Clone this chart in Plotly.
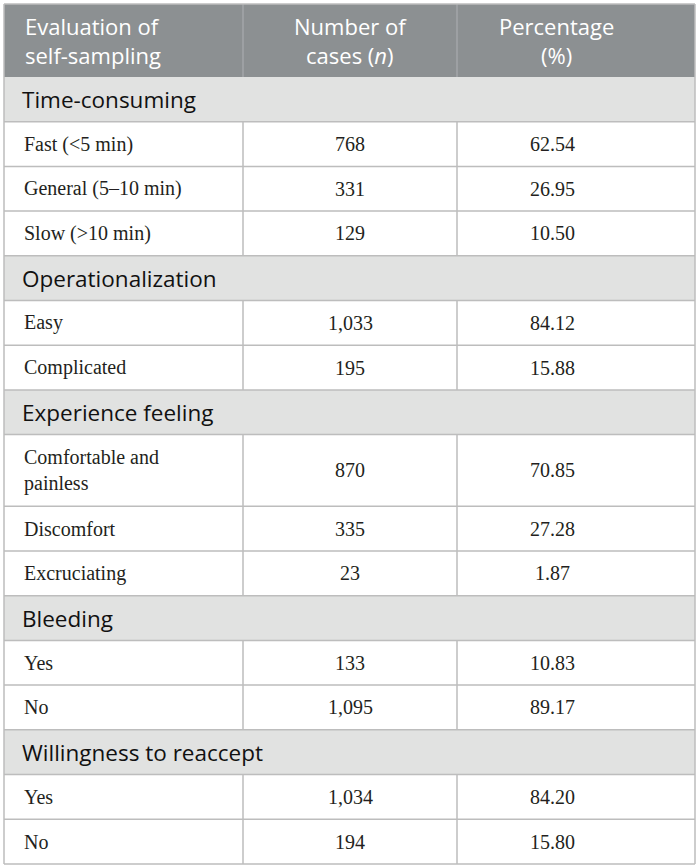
import plotly.graph_objects as go

# table content
header = ["Evaluation of<br>self-sampling", "Number of<br>cases (<i>n</i>)", "Percentage<br>(%)"]

sections = ["Time-consuming", "Operationalization", "Experience feeling",
            "Bleeding", "Willingness to reaccept"]

time_items = ["Fast (&lt;5 min)", "General (5–10 min)", "Slow (&gt;10 min)"]
time_n = [768, 331, 129]
time_pct = [62.54, 26.95, 10.50]

oper_items = ["Easy", "Complicated"]
oper_n = [1033, 195]
oper_pct = [84.12, 15.88]

feel_items = ["Comfortable and<br>painless", "Discomfort", "Excruciating"]
feel_n = [870, 335, 23]
feel_pct = [70.85, 27.28, 1.87]

bleed_items = ["Yes", "No"]
bleed_n = [133, 1095]
bleed_pct = [10.83, 89.17]

reacc_items = ["Yes", "No"]
reacc_n = [1034, 194]
reacc_pct = [84.20, 15.80]

groups = [(time_items, time_n, time_pct), (oper_items, oper_n, oper_pct),
          (feel_items, feel_n, feel_pct), (bleed_items, bleed_n, bleed_pct),
          (reacc_items, reacc_n, reacc_pct)]

# layout (pixels)
W, H = 700, 868
X0, X1, X2, X3 = 4, 243, 457, 695
TOP = 4
HEAD_H = 73
ROW_H = 44.7
TALL_H = 71.7
HEAD_BG = "#8c9092"
SEC_BG = "#e1e2e1"
LINE = "#bdbdbd"
SANS = "Open Sans"
SERIF = "Liberation Serif"
TXT = "#231f20"

rows = []
for sec, (items, ns, pcts) in zip(sections, groups):
    rows.append(("section", sec, None, None))
    for it, n, p in zip(items, ns, pcts):
        rows.append(("item", it, f"{n:,}", f"{p:.2f}"))

shapes = []
annotations = []


def hline(y):
    shapes.append(dict(type="line", xref="x", yref="y", x0=X0, x1=X3, y0=y, y1=y,
                       line=dict(color=LINE, width=1.5)))


def vline(x, y0, y1, color=LINE):
    shapes.append(dict(type="line", xref="x", yref="y", x0=x, x1=x, y0=y0, y1=y1,
                       line=dict(color=color, width=1.5)))


# header
shapes.append(dict(type="rect", xref="x", yref="y", x0=X0, x1=X3, y0=TOP, y1=TOP + HEAD_H,
                   fillcolor=HEAD_BG, line=dict(width=0), layer="below"))
vline(X1, TOP, TOP + HEAD_H, "#a3a6a8")
vline(X2, TOP, TOP + HEAD_H, "#a3a6a8")
hy = TOP + HEAD_H / 2
annotations.append(dict(x=23, y=hy, text=header[0], xanchor="left", align="left"))
annotations.append(dict(x=350, y=hy, text=header[1], xanchor="center", align="center"))
annotations.append(dict(x=556, y=hy, text=header[2], xanchor="center", align="center"))
for a in annotations:
    a.update(xref="x", yref="y", yanchor="middle", showarrow=False,
             font=dict(family=SANS, size=22, color="white"))

y = TOP + HEAD_H
for kind, label, n, p in rows:
    h = TALL_H if "<br>" in label else ROW_H
    mid = y + h / 2
    if kind == "section":
        shapes.append(dict(type="rect", xref="x", yref="y", x0=X0, x1=X3, y0=y, y1=y + h,
                           fillcolor=SEC_BG, line=dict(width=0), layer="below"))
        annotations.append(dict(x=20, y=mid, text=label, xref="x", yref="y",
                                xanchor="left", yanchor="middle", showarrow=False,
                                font=dict(family=SANS, size=22.5, color="#111111")))
    else:
        vline(X1, y, y + h)
        vline(X2, y, y + h)
        annotations.append(dict(x=22, y=mid, text=label, xref="x", yref="y",
                                xanchor="left", yanchor="middle", align="left", showarrow=False,
                                font=dict(family=SERIF, size=20, color=TXT)))
        annotations.append(dict(x=350, y=mid, text=n, xref="x", yref="y",
                                xanchor="center", yanchor="middle", showarrow=False,
                                font=dict(family=SERIF, size=20, color=TXT)))
        annotations.append(dict(x=552, y=mid, text=p, xref="x", yref="y",
                                xanchor="center", yanchor="middle", showarrow=False,
                                font=dict(family=SERIF, size=20, color=TXT)))
    y += h
    hline(y)

# outer border
vline(X0, TOP, y)
vline(X3, TOP, y)
hline(TOP)

fig = go.Figure(go.Scatter(x=[0, W], y=[0, H], mode="markers",
                           marker=dict(opacity=0), hoverinfo="skip", showlegend=False))
fig.update_layout(
    width=W, height=H,
    margin=dict(l=0, r=0, t=0, b=0),
    paper_bgcolor="white", plot_bgcolor="white",
    xaxis=dict(range=[0, W], visible=False, fixedrange=True),
    yaxis=dict(range=[H, 0], visible=False, fixedrange=True),
    shapes=shapes, annotations=annotations,
)
fig.write_html("out.html", config={"displayModeBar": False},
               post_script="document.body.style.margin='0';")
